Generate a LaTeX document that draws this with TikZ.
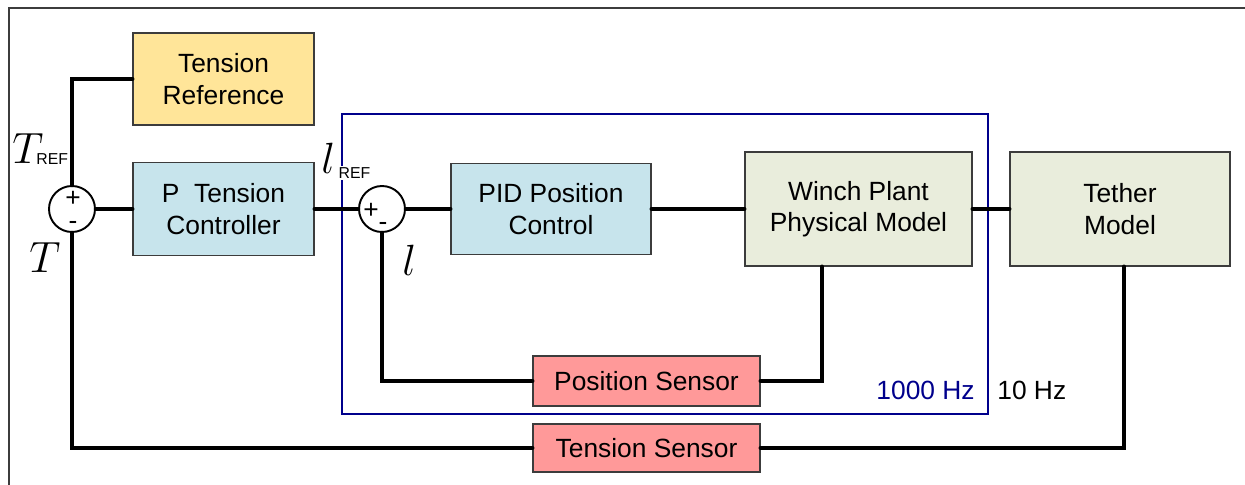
\documentclass[tikz,border=0pt]{standalone}
\usepackage{fontspec}
\setmainfont{Liberation Sans}
\definecolor{wpYellow}{RGB}{255, 229, 153}
\definecolor{wpBlue}{RGB}{199, 228, 236}
\definecolor{wpSage}{RGB}{233, 237, 220}
\definecolor{wpRed}{RGB}{255, 153, 153}
\definecolor{wpNavy}{RGB}{0, 0, 140}
\definecolor{wpEdge}{RGB}{60, 60, 60}
\usepackage{tikz}
\tikzset{
  block/.style={rectangle, draw=wpEdge, line width=0.8pt, fill=#1, align=center, inner sep=0pt, font=\fontsize{15}{18}\selectfont},
  block/.default=wpBlue,
  sumnode/.style={circle, draw, line width=1.1pt, fill=white, minimum size=0.92cm, inner sep=0pt},
  sign/.style={inner sep=0pt, font=\fontsize{15}{15}\selectfont},
  wire/.style={line width=2.5pt, line cap=round},
  hzlabel/.style={inner sep=0pt, font=\fontsize{15}{15}\selectfont},
  mathlabel/.style={anchor=base west, inner sep=0pt},
  frameline/.style={draw=wpEdge, line width=1.2pt},
}

\begin{document}
\begin{tikzpicture}
  \useasboundingbox (0,0) rectangle (24.9,-9.7);
  \draw[frameline] (0.18,-9.7) -- (0.18,-0.16) -- (24.9,-0.16);

  % 1000 Hz inner loop boundary
  \node[draw=wpNavy, line width=1pt, minimum width=12.92cm, minimum height=6cm] (fastloop) at (13.3,-5.28) {};

  % Blocks
  \node[block=wpYellow, minimum width=3.62cm, minimum height=1.84cm] (tref) at (4.47,-1.58) {Tension\\Reference};
  \node[block, minimum width=3.62cm, minimum height=1.86cm] (ptc) at (4.47,-4.18) {P\ \ Tension\\Controller};
  \node[block, minimum width=4cm, minimum height=1.82cm] (pid) at (11.02,-4.18) {PID Position\\Control};
  \node[block=wpSage, minimum width=4.54cm, minimum height=2.28cm] (winch) at (17.17,-4.18) {Winch Plant\\Physical Model};
  \node[block=wpSage, minimum width=4.4cm, minimum height=2.28cm] (tether) at (22.4,-4.18) {Tether\\Model};
  \node[block=wpRed, minimum width=4.54cm, minimum height=1cm] (possens) at (12.93,-7.62) {Position Sensor};
  \node[block=wpRed, minimum width=4.54cm, minimum height=0.96cm] (tensens) at (12.93,-8.96) {Tension Sensor};

  % Summing junctions
  \node[sumnode] (sum1) at (1.44,-4.18) {};
  \node[sumnode] (sum2) at (7.64,-4.18) {};
  \node[sign] (s1plus) at (1.46,-3.97) {+};
  \node[sign] (s1minus) at (1.46,-4.5) {-};
  \node[sign] (s2plus) at (7.42,-4.22) {+};
  \node[sign] (s2minus) at (7.66,-4.52) {-};

  % Signal names
  \node[mathlabel] (trefsig) at (0.24,-3.26) {\fontsize{27}{27}\selectfont$T$\kern-4pt\raisebox{-1pt}{\fontsize{9}{9}\selectfont REF}};
  \node[mathlabel] (tsig) at (0.58,-5.44) {\fontsize{27}{27}\selectfont$T$};
  \node[mathlabel] (lrefsig) at (6.42,-3.46) {\fontsize{23}{23}\selectfont$l$\kern1pt\raisebox{-3pt}{\setlength{\fboxsep}{1pt}\colorbox{white}{\fontsize{9}{9}\selectfont REF}}};
  \node[mathlabel] (lsig) at (8.04,-5.5) {\fontsize{23}{23}\selectfont$l$};

  % Rates
  \node[hzlabel, text=wpNavy, anchor=east] (fasthz) at (19.5,-7.8) {1000 Hz};
  \node[hzlabel, anchor=west] (slowhz) at (19.94,-7.8) {10 Hz};

  % Wires
  \draw[wire] (tref.west) -| (sum1.north);
  \draw[wire] (sum1.east) -- (ptc.west);
  \draw[wire] (ptc.east) -- (sum2.west);
  \draw[wire] (sum2.east) -- (pid.west);
  \draw[wire] (pid.east) -- (winch.west);
  \draw[wire] (winch.east) -- (tether.west);
  \draw[wire] ([xshift=-0.73cm]winch.south) |- (possens.east);
  \draw[wire] (possens.west) -| (sum2.south);
  \draw[wire] ([xshift=0.08cm]tether.south) |- (tensens.east);
  \draw[wire] (tensens.west) -| (sum1.south);
\end{tikzpicture}
\end{document}
